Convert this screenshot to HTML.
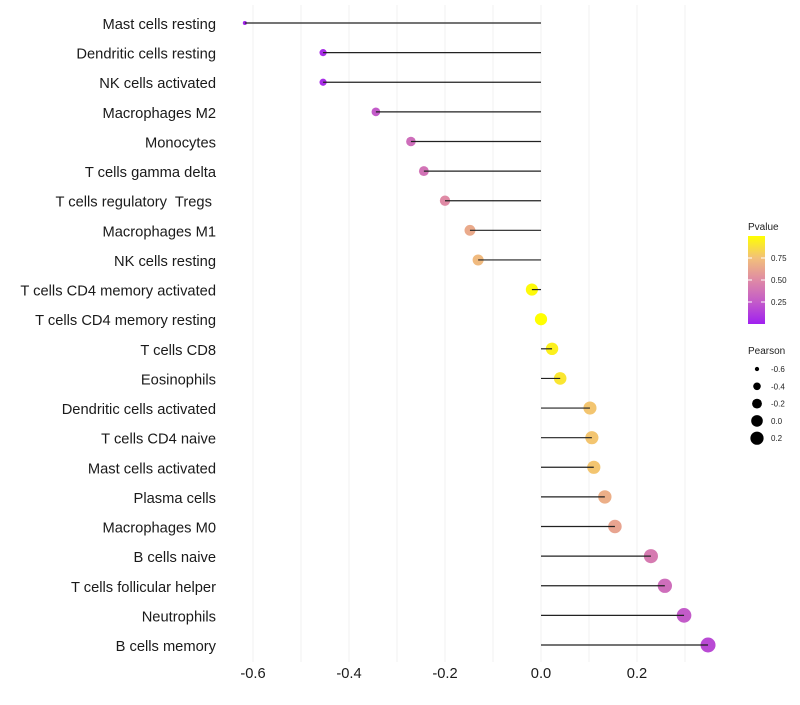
<!DOCTYPE html>
<html><head><meta charset="utf-8"><style>
body{margin:0;background:#fff;font-family:"Liberation Sans",sans-serif}
text{white-space:pre}
</style></head><body>
<svg id="c" width="800" height="700" xmlns="http://www.w3.org/2000/svg">
<defs><linearGradient id="pg" x1="0" y1="1" x2="0" y2="0">
<stop offset="0" stop-color="#A020F0"/><stop offset="0.25" stop-color="#C35BC9"/><stop offset="0.5" stop-color="#DF8AA5"/><stop offset="0.75" stop-color="#F2C07A"/><stop offset="1" stop-color="#FFFF00"/></linearGradient></defs>
<g id="grid"></g><g id="marks"></g><g id="labels"></g><g id="legend"></g>
</svg>
<script>
const categories=["Mast cells resting","Dendritic cells resting","NK cells activated","Macrophages M2","Monocytes","T cells gamma delta","T cells regulatory  Tregs ","Macrophages M1","NK cells resting","T cells CD4 memory activated","T cells CD4 memory resting","T cells CD8","Eosinophils","Dendritic cells activated","T cells CD4 naive","Mast cells activated","Plasma cells","Macrophages M0","B cells naive","T cells follicular helper","Neutrophils","B cells memory"];
const pearson=[-0.617,-0.454,-0.454,-0.344,-0.271,-0.244,-0.2,-0.148,-0.131,-0.019,0.0,0.023,0.04,0.102,0.106,0.11,0.133,0.154,0.229,0.258,0.298,0.348];
const pvalue=[0.02,0.06,0.06,0.25,0.35,0.38,0.5,0.65,0.72,0.98,1.0,0.94,0.9,0.77,0.77,0.77,0.67,0.62,0.42,0.35,0.25,0.18];
const xTicks=[-0.6,-0.4,-0.2,0.0,0.2];
const xTickLabels=["-0.6","-0.4","-0.2","0.0","0.2"];
const pTicks=[0.25,0.5,0.75];
const sizeTicks=[-0.6,-0.4,-0.2,0.0,0.2];
const sizeTickLabels=["-0.6","-0.4","-0.2","0.0","0.2"];

const NS="http://www.w3.org/2000/svg";
const n=categories.length;
const x=v=>541+480*v;
const y=i=>23+i*(645-23)/(n-1);
const r=v=>Math.sqrt(Math.max(1,4+(v+0.62)*54));
const stops=[[0,[160,32,240]],[0.25,[195,91,201]],[0.5,[223,138,165]],[0.75,[242,192,122]],[1,[255,255,0]]];
function col(p){for(let k=1;k<stops.length;k++){if(p<=stops[k][0]){const a=stops[k-1],b=stops[k],t=(p-a[0])/(b[0]-a[0]);
return "rgb("+a[1].map((c,j)=>Math.round(c+(b[1][j]-c)*t)).join(",")+")";}}return "rgb(255,255,0)";}
function mk(t,a,parent){const e=document.createElementNS(NS,t);for(const k in a)e.setAttribute(k,a[k]);document.getElementById(parent).appendChild(e);return e;}

for(let v=-0.6;v<=0.31;v+=0.1){const gl=mk("line",{x1:x(v),x2:x(v),y1:5,y2:662,stroke:"#f0f0f0","stroke-width":1},"grid");

}
xTicks.forEach((v,i)=>{const t=mk("text",{x:x(v),y:678,"font-size":14.7,fill:"#1a1a1a","text-anchor":"middle"},"labels");t.textContent=xTickLabels[i];

});
categories.forEach((c,i)=>{
const ci=mk("circle",{cx:x(pearson[i]),cy:y(i),r:r(pearson[i]),fill:col(pvalue[i])},"marks");


const ln=mk("line",{x1:x(0),x2:x(pearson[i]),y1:y(i),y2:y(i),stroke:"#222","stroke-width":1.2},"marks");


const t=mk("text",{x:216,y:y(i)+6,"font-size":14.7,fill:"#1a1a1a","text-anchor":"end"},"labels");t.textContent=c;

});

let t=mk("text",{x:748,y:230,"font-size":10,fill:"#222"},"legend");t.textContent="Pvalue";


const bar=mk("rect",{x:748,y:236,width:17,height:88,fill:"url(#pg)"},"legend");


pTicks.forEach(p=>{const yy=324-p*88;
mk("line",{x1:748,x2:752,y1:yy,y2:yy,stroke:"#fff"},"legend");mk("line",{x1:761,x2:765,y1:yy,y2:yy,stroke:"#fff"},"legend");
const tt=mk("text",{x:771,y:yy+3,"font-size":8,fill:"#222"},"legend");tt.textContent=p.toFixed(2);

});
t=mk("text",{x:748,y:354,"font-size":10,fill:"#222"},"legend");t.textContent="Pearson";


sizeTicks.forEach((v,i)=>{const yy=369+i*17.3;
const c=mk("circle",{cx:757,cy:yy,r:r(v)*0.95,fill:"#000"},"legend");


const tt=mk("text",{x:771,y:yy+3,"font-size":8,fill:"#222"},"legend");tt.textContent=sizeTickLabels[i];

});
</script>
</body></html>
